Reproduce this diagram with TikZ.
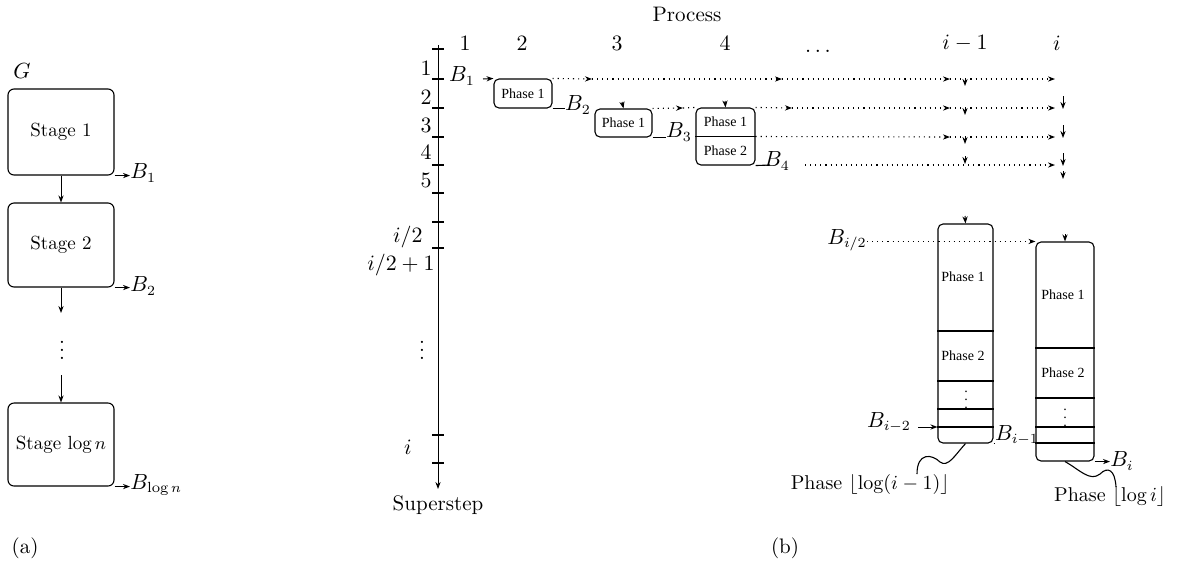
\documentclass[tikz,border=0pt]{standalone}
\usepackage{fontspec}
\newfontfamily\phfont{Liberation Serif}
\usetikzlibrary{arrows.meta}
\begin{document}
\begin{tikzpicture}[x=0.5pt,y=-0.5pt,
  every node/.style={inner sep=0pt},
  stage/.style={draw, rounded corners=3pt, line width=0.55pt, font=\fontsize{9.5}{11}\selectfont},
  pbox/.style={draw, rounded corners=2.5pt, line width=0.55pt, font=\phfont\fontsize{7}{8}\selectfont},
  ptxt/.style={font=\phfont\fontsize{7}{8}\selectfont},
  lab/.style={font=\fontsize{10.5}{12}\selectfont},
  plab/.style={font=\fontsize{10}{12}\selectfont},
  arr/.style={-{Stealth[length=3.5pt,width=2.6pt]}, line width=0.5pt},
  ln/.style={line width=0.55pt},
  darr/.style={dotted, line width=0.55pt, -{Stealth[length=3.5pt,width=2.6pt]}},
]
\useasboundingbox (0,0) rectangle (1177,585);

% ---------------- (a) ----------------
\node[lab] (G) at (22,71) {$G$};
\node[stage, minimum width=53pt, minimum height=43pt] (s1) at (61,132) {Stage 1};
\node[stage, minimum width=53pt, minimum height=42pt] (s2) at (61,245) {Stage 2};
\node[stage, minimum width=53pt, minimum height=41.5pt] (sl) at (61,444.5) {Stage $\log n$};
\node[lab, anchor=west] (ba1) at (130,173) {$B_1$};
\node[lab, anchor=west] (ba2) at (130,286) {$B_2$};
\node[lab, anchor=west] (bal) at (130,485) {$B_{\log n}$};
\draw[arr] (s1.south east) -- (ba1.west |- s1.south east);
\draw[arr] (s2.south east) -- (ba2.west |- s2.south east);
\draw[arr] (sl.south east) -- (bal.west |- sl.south east);
\draw[arr] (s1.south) -- (s2.north);
\coordinate (a1) at (61,313);
\coordinate (a2) at (61,375);
\draw[arr] (s2.south) -- (a1);
\node[lab] (adots) at (62,344) {$\vdots$};
\draw[arr] (a2) -- (sl.north);
\node[lab] (la) at (25,548) {(a)};

% ---------------- (b) ----------------
\node[lab] (proc) at (687,14) {Process};
\node[lab] (h1) at (465,43) {$1$};
\node[lab] (h2) at (522,43) {$2$};
\node[lab] (h3) at (617,43) {$3$};
\node[lab] (h4) at (725,43) {$4$};
\node[lab] (h5) at (818,51) {$\ldots$};
\node[lab] (h6) at (965,43) {$i-1$};
\node[lab] (h7) at (1057,43) {$i$};

% axis
\coordinate (axtop) at (438,45);
\coordinate (axbot) at (438,489);
\draw[arr] (axtop) -- (axbot);
\foreach \yy in {49,79,108,137,165,193,222,248,435,463}
  \draw[ln] (432,\yy) -- (444,\yy);
\node[lab, anchor=east] (r1) at (432,68) {$1$};
\node[lab, anchor=east] (r2) at (432,97) {$2$};
\node[lab, anchor=east] (r3) at (432,125) {$3$};
\node[lab, anchor=east] (r4) at (432,152) {$4$};
\node[lab, anchor=east] (r5) at (432,180) {$5$};
\node[lab, anchor=east] (ri2) at (423,237) {$i/2$};
\node[lab, anchor=east] (ri21) at (435,265) {$i/2+1$};
\node[lab] (rdots) at (422,344) {$\vdots$};
\node[lab] (ri) at (408,447) {$i$};
\node[lab] (sstep) at (438,505) {Superstep};

% top phase boxes
\node[pbox, minimum width=29pt, minimum height=14.5pt] (p2) at (523,93.5) {Phase 1};
\node[pbox, minimum width=28.5pt, minimum height=14pt] (p3) at (623.5,123) {Phase 1};
\node[pbox, minimum width=29.5pt, minimum height=28.5pt] (p4) at (725.5,136.5) {};
\draw[ln] (p4.west) -- (p4.east);
\node[ptxt] (p4a) at (725.5,122) {Phase 1};
\node[ptxt] (p4b) at (725.5,151) {Phase 2};

\node[lab] (B1) at (462,76) {$B_1$};
\node[lab] (B2) at (578,105) {$B_2$};
\node[lab] (B3) at (679,132) {$B_3$};
\node[lab] (B4) at (777,161) {$B_4$};
\coordinate (b1s) at (483,79);
\draw[arr] (b1s) -- (p2.north west);
\draw[ln] (p2.south east) -- (B2.west |- p2.south east);
\draw[ln] (p3.south east) -- (B3.west |- p3.south east);
\coordinate (b4e) at (770,165);
\draw[ln] (p4.south east) -- (b4e);

% dotted broadcast rows
\coordinate (q1a) at (592,79);
\coordinate (q1b) at (782,79);
\coordinate (q1c) at (950,79);
\coordinate (q1d) at (1055,79);
\draw[darr] (p2.north east) -- (q1a);
\draw[darr] (q1a) -- (q1b);
\draw[darr] (q1b) -- (q1c);
\draw[darr] (q1c) -- (q1d);

\coordinate (q2a) at (683,108);
\coordinate (q2b) at (792,108);
\coordinate (q2c) at (950,108);
\coordinate (q2d) at (1055,108);
\draw[darr] (p3.north east) -- (q2a);
\draw[dotted, line width=0.55pt] (q2a) -- (p4.north west);
\draw[darr] (p4.north east) -- (q2b);
\draw[darr] (q2b) -- (q2c);
\draw[darr] (q2c) -- (q2d);

\coordinate (q3c) at (950,137);
\coordinate (q3d) at (1055,137);
\draw[darr] (p4.east) -- (q3c);
\draw[darr] (q3c) -- (q3d);

\coordinate (q4s) at (805,165);
\coordinate (q4d) at (1055,165);
\draw[darr] (q4s) -- (q4d);

% small receive arrows
\draw[arr] (622,102) -- (p3.north);
\draw[arr] (725,101) -- (p4.north);
\foreach \yy in {79,108,137}
  \draw[arr] (965,\yy) -- (965,\yy+7);
\draw[arr] (965,156) -- (965,164);
\foreach \yy in {108,137,165}
  \draw[arr] (1063,\yy-12) -- (1063,\yy+1);
\draw[arr] (1063,171) -- (1063,179);

% big columns
\node[pbox, minimum width=27.5pt, minimum height=109.5pt] (c1) at (965.5,333.5) {};
\node[pbox, minimum width=29pt, minimum height=109.5pt] (c2) at (1065,351.5) {};
\foreach \yy in {331,381,409,427}
  \draw[ln] (c1.west |- 0,\yy) -- (c1.east |- 0,\yy);
\foreach \yy in {348,398,427,443}
  \draw[ln] (c2.west |- 0,\yy) -- (c2.east |- 0,\yy);
\node[ptxt] (c1a) at (963,277) {Phase 1};
\node[ptxt] (c1b) at (963,356) {Phase 2};
\node[ptxt] (c1d) at (966,394) {$\vdots$};
\node[ptxt] (c2a) at (1063,295) {Phase 1};
\node[ptxt] (c2b) at (1063,373) {Phase 2};
\node[ptxt] (c2d) at (1065,412) {$\vdots$};
\draw[arr] (965,216) -- (c1.north);
\draw[arr] (1065,234) -- (c2.north);

\node[lab] (Bh) at (847,240) {$B_{i/2}$};
\draw[darr] (Bh.east |- c2.north west) -- (c2.north west);
\node[lab] (Bm2) at (889,422) {$B_{i-2}$};
\coordinate (bm2s) at (918,427);
\draw[arr] (bm2s) -- (c1.west |- bm2s);
\node[lab] (Bm1) at (1017,435) {$B_{i-1}$};
\draw[ln] (c1.south east) -- (Bm1.west |- c1.south east);
\node[lab] (Bi) at (1122,461) {$B_i$};
\draw[arr] (c2.south east) -- (Bi.west |- c2.south east);

\node[plab] (ph1) at (870,484) {Phase $\lfloor\log(i-1)\rfloor$};
\node[plab] (ph2) at (1110,496) {Phase $\lfloor\log i\rfloor$};
\draw[ln] (917,474) .. controls (917,452) and (932,454) .. (940,462)
          .. controls (948,468) and (955,455) .. (c1.south);
\draw[ln] (c2.south) .. controls (1080,470) and (1090,482) .. (1100,474)
          .. controls (1108,466) and (1115,470) .. (1116,487);

\node[lab] (lb) at (785,548) {(b)};
\end{tikzpicture}
\end{document}
